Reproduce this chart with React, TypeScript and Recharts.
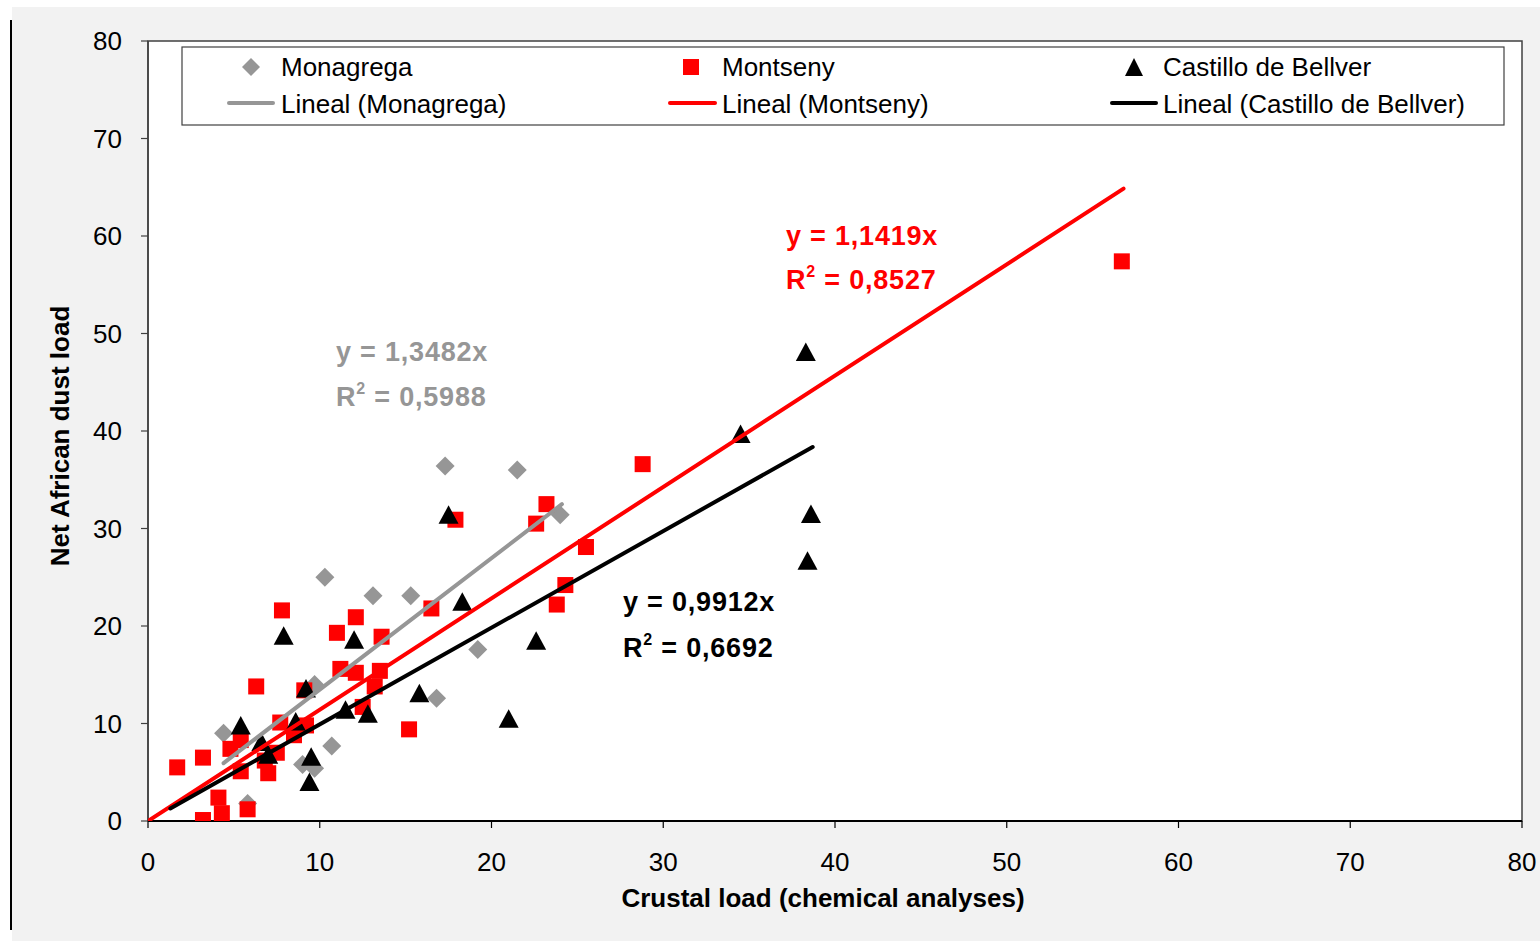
import React from 'react';
import { ScatterChart, Scatter, XAxis, YAxis } from 'recharts';

const FONT = '"Liberation Sans", Arial, Helvetica, sans-serif';

// Monagrega (grey diamonds)
const monagrega = [
  { x: 4.4, y: 9.0 }, { x: 5.8, y: 1.8 }, { x: 9.0, y: 5.8 }, { x: 9.7, y: 5.4 },
  { x: 9.7, y: 14.0 }, { x: 10.3, y: 25.0 }, { x: 10.7, y: 7.7 }, { x: 13.1, y: 23.1 },
  { x: 15.3, y: 23.1 }, { x: 16.8, y: 12.6 }, { x: 17.3, y: 36.4 }, { x: 19.2, y: 17.6 },
  { x: 21.5, y: 36.0 }, { x: 24.0, y: 31.4 },
];

// Montseny (red squares)
const montseny = [
  { x: 1.7, y: 5.5 }, { x: 3.2, y: 6.5 }, { x: 3.2, y: 0.1 }, { x: 4.1, y: 2.4 },
  { x: 4.3, y: 0.8 }, { x: 4.8, y: 7.4 }, { x: 5.4, y: 8.3 }, { x: 5.4, y: 5.1 },
  { x: 5.8, y: 1.2 }, { x: 6.3, y: 13.8 }, { x: 6.8, y: 6.2 }, { x: 7.0, y: 4.9 },
  { x: 7.5, y: 7.0 }, { x: 7.7, y: 10.1 }, { x: 7.8, y: 21.6 }, { x: 8.5, y: 8.8 },
  { x: 9.1, y: 13.4 }, { x: 9.2, y: 9.8 }, { x: 11.0, y: 19.3 }, { x: 11.2, y: 15.6 },
  { x: 12.1, y: 20.9 }, { x: 12.1, y: 15.2 }, { x: 12.5, y: 11.7 }, { x: 13.2, y: 13.8 },
  { x: 13.5, y: 15.4 }, { x: 13.6, y: 18.9 }, { x: 15.2, y: 9.4 }, { x: 16.5, y: 21.8 },
  { x: 17.9, y: 30.9 }, { x: 22.6, y: 30.5 }, { x: 23.2, y: 32.5 }, { x: 23.8, y: 22.2 },
  { x: 24.3, y: 24.2 }, { x: 25.5, y: 28.1 }, { x: 28.8, y: 36.6 }, { x: 56.7, y: 57.4 },
];

// Castillo de Bellver (black triangles)
const castillo = [
  { x: 5.4, y: 9.8 }, { x: 6.6, y: 8.1 }, { x: 7.0, y: 6.8 }, { x: 7.9, y: 19.0 },
  { x: 8.6, y: 10.2 }, { x: 9.2, y: 13.6 }, { x: 9.4, y: 4.0 }, { x: 9.5, y: 6.6 },
  { x: 11.5, y: 11.4 }, { x: 12.0, y: 18.6 }, { x: 12.8, y: 11.0 }, { x: 15.8, y: 13.1 },
  { x: 17.5, y: 31.4 }, { x: 18.3, y: 22.5 }, { x: 21.0, y: 10.5 }, { x: 22.6, y: 18.5 },
  { x: 34.5, y: 39.7 }, { x: 38.3, y: 48.1 }, { x: 38.4, y: 26.7 }, { x: 38.6, y: 31.5 },
];

const xTicks = [0, 10, 20, 30, 40, 50, 60, 70, 80];
const yTicks = [0, 10, 20, 30, 40, 50, 60, 70, 80];

// Trend lines (y = slope * x) with the x-range they span in the picture
const slopeMonagrega = 1.3482;
const slopeMontseny = 1.1419;
const slopeCastillo = 0.9912;
const trendMonagregaX = [4.4, 24.1];
const trendMontsenyX = [0.1, 56.8];
const trendCastilloX = [1.3, 38.7];

const trendMonagrega = trendMonagregaX.map((x) => ({ x, y: slopeMonagrega * x }));
const trendMontseny = trendMontsenyX.map((x) => ({ x, y: slopeMontseny * x }));
const trendCastillo = trendCastilloX.map((x) => ({ x, y: slopeCastillo * x }));

const GREY = '#969696';
const RED = '#ff0000';
const BLACK = '#000000';

const Diamond = (p: any) => {
  const { cx, cy } = p;
  const r = 9.5;
  return <polygon points={`${cx},${cy - r} ${cx + r},${cy} ${cx},${cy + r} ${cx - r},${cy}`} fill={GREY} />;
};
const Square = (p: any) => {
  const { cx, cy } = p;
  const s = 16;
  return <rect x={cx - s / 2} y={cy - s / 2} width={s} height={s} fill={RED} />;
};
const Triangle = (p: any) => {
  const { cx, cy } = p;
  return <polygon points={`${cx},${cy - 9.5} ${cx + 10},${cy + 9} ${cx - 10},${cy + 9}`} fill={BLACK} />;
};
const NoShape = () => <g />;

export default function App() {
  return (
    <div style={{ position: 'absolute', left: 0, top: 0, width: 1540, height: 941, background: '#fff', fontFamily: FONT }}>
      <svg width={1540} height={941} style={{ position: 'absolute', left: 0, top: 0 }}>
        <rect x={12} y={7} width={1528} height={934} fill="#f2f2f2" />
        <rect x={10} y={20} width={2} height={910} fill="#000" />
        <rect x={148} y={41} width={1374} height={780} fill="#fff" stroke="#404040" strokeWidth={1.5} />
      </svg>
      <div style={{ position: 'absolute', left: 0, top: 0 }}>
        <ScatterChart width={1540} height={941} margin={{ top: 41, right: 18, bottom: 80, left: 0 }}>
          <XAxis
            type="number"
            dataKey="x"
            domain={[0, 80]}
            ticks={xTicks}
            height={40}
            tickSize={7}
            tickMargin={25}
            axisLine={{ stroke: '#000', strokeWidth: 2 }}
            tickLine={{ stroke: '#000', strokeWidth: 1.2 }}
            tick={{ fill: '#000', fontSize: 26, fontFamily: FONT }}
            allowDataOverflow
          />
          <YAxis
            type="number"
            dataKey="y"
            domain={[0, 80]}
            ticks={yTicks}
            width={148}
            tickSize={7}
            tickMargin={19}
            axisLine={{ stroke: '#404040', strokeWidth: 1.5 }}
            tickLine={{ stroke: '#404040', strokeWidth: 1.2 }}
            tick={{ fill: '#000', fontSize: 26, fontFamily: FONT }}
            allowDataOverflow
          />
          <Scatter name="Monagrega" data={monagrega} shape={Diamond} isAnimationActive={false} />
          <Scatter name="Montseny" data={montseny} shape={Square} isAnimationActive={false} />
          <Scatter name="Castillo de Bellver" data={castillo} shape={Triangle} isAnimationActive={false} />
          <Scatter
            name="Lineal (Monagrega)"
            data={trendMonagrega}
            shape={NoShape}
            line={{ stroke: GREY, strokeWidth: 4, strokeLinecap: 'round' }}
            isAnimationActive={false}
          />
          <Scatter
            name="Lineal (Montseny)"
            data={trendMontseny}
            shape={NoShape}
            line={{ stroke: RED, strokeWidth: 4, strokeLinecap: 'round' }}
            isAnimationActive={false}
          />
          <Scatter
            name="Lineal (Castillo de Bellver)"
            data={trendCastillo}
            shape={NoShape}
            line={{ stroke: BLACK, strokeWidth: 4, strokeLinecap: 'round' }}
            isAnimationActive={false}
          />
        </ScatterChart>
      </div>
      <svg width={1540} height={941} style={{ position: 'absolute', left: 0, top: 0, pointerEvents: 'none' }} fontFamily={FONT}>
        {/* Legend */}
        <rect x={182} y={47} width={1322} height={78} fill="#fff" stroke="#404040" strokeWidth={1.2} />
        <polygon points="251,58 260,67 251,76 242,67" fill={GREY} />
        <text x={281} y={76} fontSize={26} fill="#000">Monagrega</text>
        <line x1={229} y1={103} x2={273} y2={103} stroke={GREY} strokeWidth={4} strokeLinecap="round" />
        <text x={281} y={113} fontSize={26} fill="#000">Lineal (Monagrega)</text>

        <rect x={683} y={59} width={16} height={16} fill={RED} />
        <text x={722} y={76} fontSize={26} fill="#000">Montseny</text>
        <line x1={670} y1={103} x2={715} y2={103} stroke={RED} strokeWidth={4} strokeLinecap="round" />
        <text x={722} y={113} fontSize={26} fill="#000">Lineal (Montseny)</text>

        <polygon points="1134,58 1143,76 1125,76" fill={BLACK} />
        <text x={1163} y={76} fontSize={26} fill="#000">Castillo de Bellver</text>
        <line x1={1112} y1={103} x2={1156} y2={103} stroke={BLACK} strokeWidth={4} strokeLinecap="round" />
        <text x={1163} y={113} fontSize={26} fill="#000">Lineal (Castillo de Bellver)</text>

        {/* Trend equations */}
        <g fontWeight="bold" fontSize={27} letterSpacing={0.8}>
          <text x={786} y={245} fill={RED}>y = 1,1419x</text>
          <text x={786} y={289} fill={RED}>R<tspan dy={-12} fontSize={16}>2</tspan><tspan dy={12}> = 0,8527</tspan></text>
          <text x={336} y={361} fill={GREY}>y = 1,3482x</text>
          <text x={336} y={406} fill={GREY}>R<tspan dy={-12} fontSize={16}>2</tspan><tspan dy={12}> = 0,5988</tspan></text>
          <text x={623} y={611} fill={BLACK}>y = 0,9912x</text>
          <text x={623} y={657} fill={BLACK}>R<tspan dy={-12} fontSize={16}>2</tspan><tspan dy={12}> = 0,6692</tspan></text>
        </g>

        {/* Axis titles */}
        <text x={823} y={907} fontSize={26} fontWeight="bold" textAnchor="middle" fill="#000">Crustal load (chemical analyses)</text>
        <text x={69} y={436} fontSize={26} fontWeight="bold" textAnchor="middle" fill="#000" transform="rotate(-90 69 436)">Net African dust load</text>
      </svg>
    </div>
  );
}
